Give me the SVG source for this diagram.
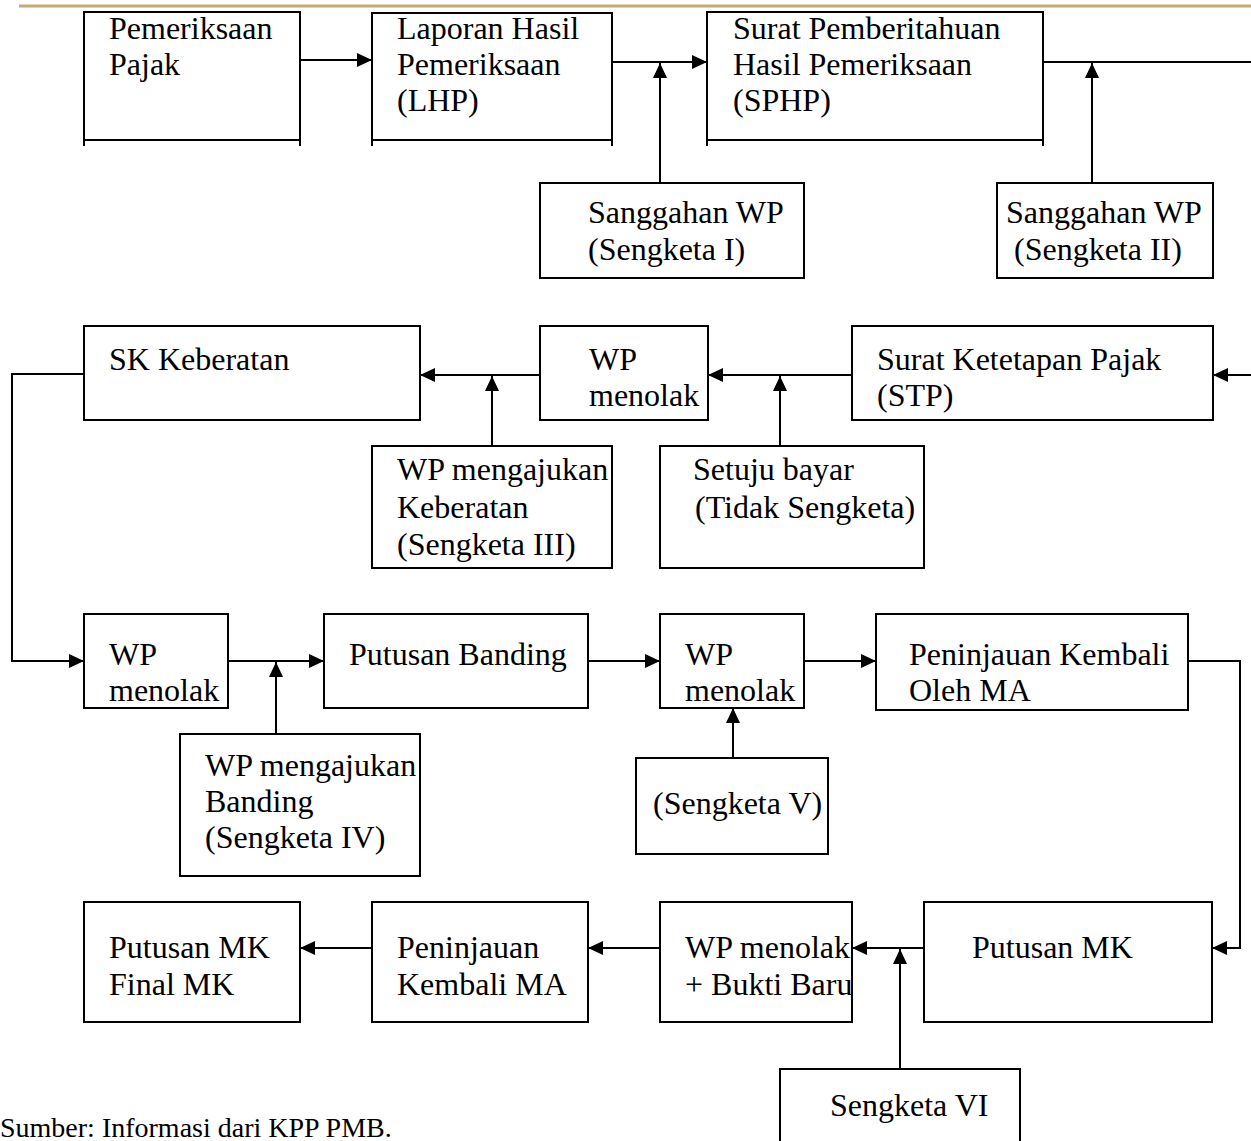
<svg xmlns="http://www.w3.org/2000/svg" width="1251" height="1141" viewBox="0 0 1251 1141">
<style>
.box{fill:#fff;stroke:#000;stroke-width:2}
.tick{stroke:#000;stroke-width:2;fill:none}
.con{stroke:#000;stroke-width:2;fill:none}
.arr{marker-end:url(#ah)}
text{font-family:"Liberation Serif","Times New Roman",serif;font-size:32px;fill:#000}
.src{font-size:28px}
</style>
<defs>
<marker id="ah" markerUnits="userSpaceOnUse" markerWidth="16" markerHeight="14" refX="15" refY="7" orient="auto">
<path d="M0,0 L15,7 L0,14 Z" fill="#000"/>
</marker>
</defs>
<rect x="0" y="0" width="1251" height="1141" fill="#fff"/>
<line x1="19" y1="6" x2="1251" y2="6" stroke="#c5aa72" stroke-width="3"/>

<g id="connectors">
<path class="con arr" d="M300,60 H372"/>
<path class="con arr" d="M612,62 H707"/>
<path class="con arr" d="M660,183 V63"/>
<path class="con" d="M1043,62 H1251"/>
<path class="con arr" d="M1092,183 V63"/>

<path class="con arr" d="M1251,375 H1213"/>
<path class="con arr" d="M852,375 H708"/>
<path class="con arr" d="M780,446 V376"/>
<path class="con arr" d="M540,375 H420"/>
<path class="con arr" d="M492,446 V376"/>
<path class="con arr" d="M84,374 H12 V661 H84"/>

<path class="con arr" d="M228,661 H324"/>
<path class="con arr" d="M276,734 V662"/>
<path class="con arr" d="M588,661 H660"/>
<path class="con arr" d="M733,758 V708"/>
<path class="con arr" d="M804,661 H876"/>
<path class="con arr" d="M1188,661 H1240 V948 H1212"/>

<path class="con arr" d="M924,948 H852"/>
<path class="con arr" d="M900,1069 V949"/>
<path class="con arr" d="M660,948 H588"/>
<path class="con arr" d="M372,948 H300"/>
</g>

<g id="n-pemeriksaan">
<rect class="box" x="84" y="12" width="216" height="128"/>
<path class="tick" d="M84,140 V146 M300,140 V146"/>
<text x="109" y="39">Pemeriksaan</text>
<text x="109" y="75">Pajak</text>
</g>
<g id="n-lhp">
<rect class="box" x="372" y="13" width="240" height="127"/>
<path class="tick" d="M372,140 V146 M612,140 V146"/>
<text x="397" y="39">Laporan Hasil</text>
<text x="397" y="75">Pemeriksaan</text>
<text x="397" y="111">(LHP)</text>
</g>
<g id="n-sphp">
<rect class="box" x="707" y="12" width="336" height="128"/>
<path class="tick" d="M707,140 V146 M1043,140 V146"/>
<text x="733" y="39">Surat Pemberitahuan</text>
<text x="733" y="75">Hasil Pemeriksaan</text>
<text x="733" y="111">(SPHP)</text>
</g>
<g id="n-sanggahan1">
<rect class="box" x="540" y="183" width="264" height="95"/>
<text x="588" y="223">Sanggahan WP</text>
<text x="588" y="260">(Sengketa I)</text>
</g>
<g id="n-sanggahan2">
<rect class="box" x="997" y="183" width="216" height="95"/>
<text x="1006" y="223">Sanggahan WP</text>
<text x="1014" y="260">(Sengketa II)</text>
</g>

<g id="n-skkeberatan">
<rect class="box" x="84" y="326" width="336" height="94"/>
<text x="109" y="370">SK Keberatan</text>
</g>
<g id="n-wpmenolak1">
<rect class="box" x="540" y="326" width="168" height="94"/>
<text x="589" y="370">WP</text>
<text x="589" y="406">menolak</text>
</g>
<g id="n-stp">
<rect class="box" x="852" y="326" width="361" height="94"/>
<text x="877" y="370">Surat Ketetapan Pajak</text>
<text x="877" y="406">(STP)</text>
</g>
<g id="n-keberatan">
<rect class="box" x="372" y="446" width="240" height="122"/>
<text x="397" y="480">WP mengajukan</text>
<text x="397" y="518">Keberatan</text>
<text x="397" y="555">(Sengketa III)</text>
</g>
<g id="n-setuju">
<rect class="box" x="660" y="446" width="264" height="122"/>
<text x="693" y="480">Setuju bayar</text>
<text x="695" y="518">(Tidak Sengketa)</text>
</g>

<g id="n-wpmenolak2">
<rect class="box" x="84" y="614" width="144" height="94"/>
<text x="109" y="665">WP</text>
<text x="109" y="701">menolak</text>
</g>
<g id="n-putusanbanding">
<rect class="box" x="324" y="614" width="264" height="94"/>
<text x="349" y="665">Putusan Banding</text>
</g>
<g id="n-wpmenolak3">
<rect class="box" x="660" y="614" width="144" height="94"/>
<text x="685" y="665">WP</text>
<text x="685" y="701">menolak</text>
</g>
<g id="n-pkma">
<rect class="box" x="876" y="614" width="312" height="96"/>
<text x="909" y="665">Peninjauan Kembali</text>
<text x="909" y="701">Oleh MA</text>
</g>
<g id="n-banding">
<rect class="box" x="180" y="734" width="240" height="142"/>
<text x="205" y="776">WP mengajukan</text>
<text x="205" y="812">Banding</text>
<text x="205" y="848">(Sengketa IV)</text>
</g>
<g id="n-sengketa5">
<rect class="box" x="636" y="758" width="192" height="96"/>
<text x="653" y="814">(Sengketa V)</text>
</g>

<g id="n-putusanmkfinal">
<rect class="box" x="84" y="902" width="216" height="120"/>
<text x="109" y="958">Putusan MK</text>
<text x="109" y="995">Final MK</text>
</g>
<g id="n-pkma2">
<rect class="box" x="372" y="902" width="216" height="120"/>
<text x="397" y="958">Peninjauan</text>
<text x="397" y="995">Kembali MA</text>
</g>
<g id="n-wpbukti">
<rect class="box" x="660" y="902" width="192" height="120"/>
<text x="685" y="958">WP menolak</text>
<text x="685" y="995">+ Bukti Baru</text>
</g>
<g id="n-putusanmk">
<rect class="box" x="924" y="902" width="288" height="120"/>
<text x="972" y="958">Putusan MK</text>
</g>
<g id="n-sengketa6">
<rect class="box" x="780" y="1069" width="240" height="90"/>
<text x="830" y="1116">Sengketa VI</text>
</g>

<text class="src" x="0" y="1137">Sumber: Informasi dari KPP PMB.</text>
</svg>
